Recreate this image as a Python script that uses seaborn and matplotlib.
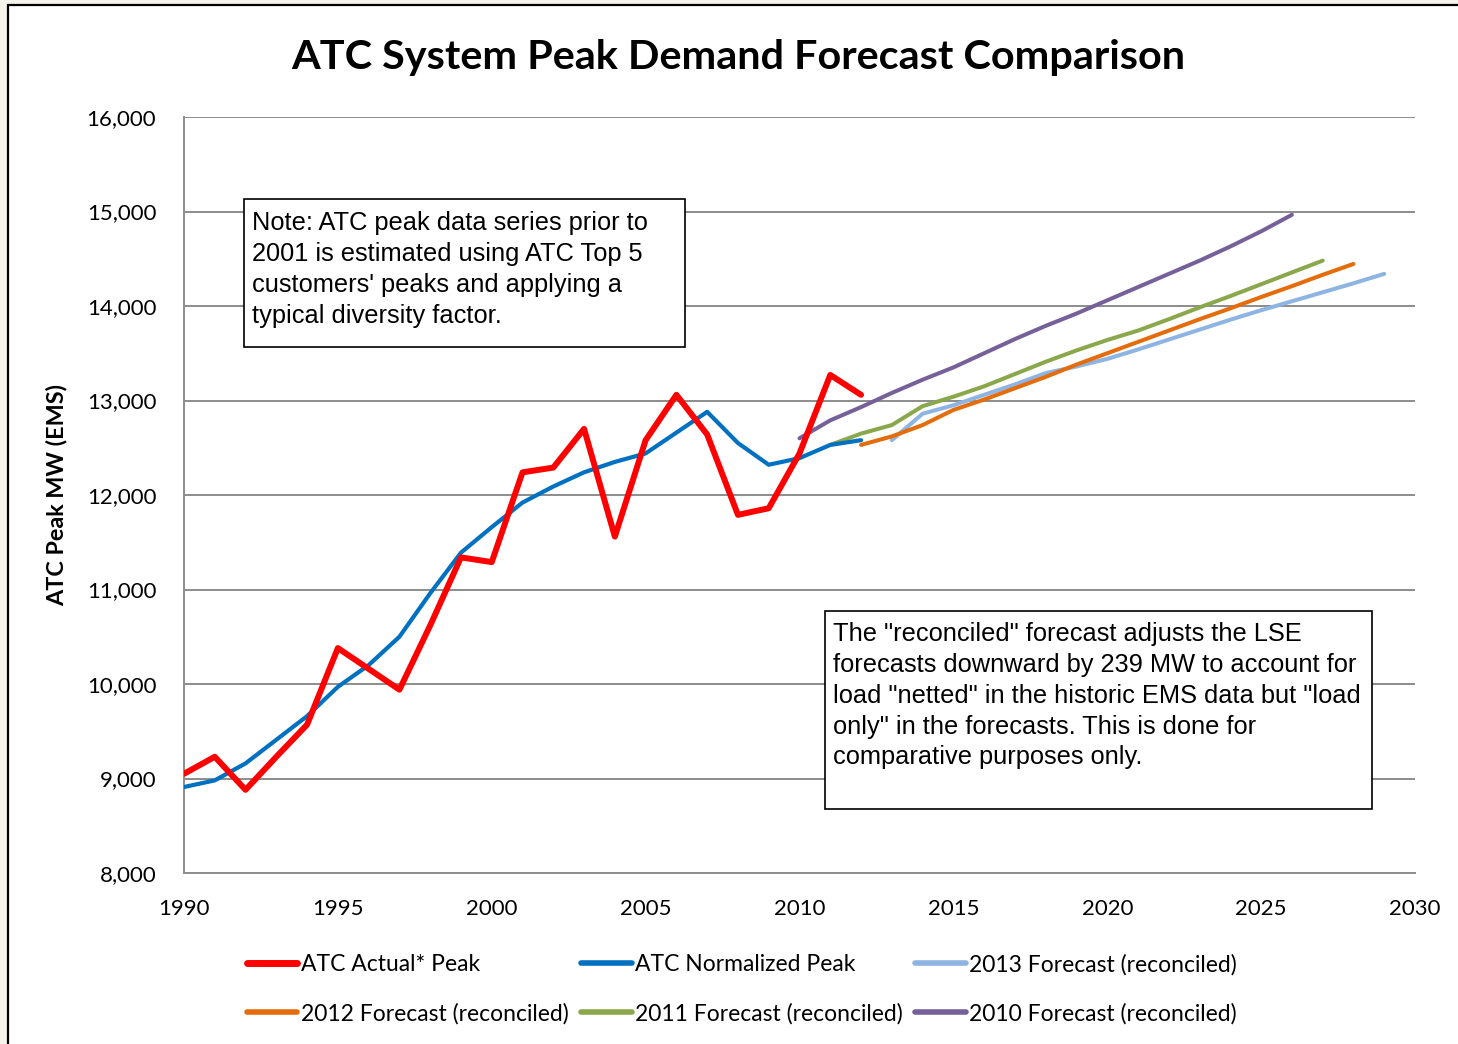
import matplotlib
matplotlib.use("Agg")
import matplotlib.pyplot as plt
from matplotlib.lines import Line2D
from matplotlib.patches import Rectangle
import seaborn as sns

# Historic peaks, 1990-2012
years_hist = list(range(1990, 2013))
actual_peak = [9050, 9230, 8880, 9230, 9570, 10380, 10160, 9940, 10620, 11340, 11290, 12240,
               12290, 12700, 11560, 12580, 13060, 12640, 11790, 11860, 12440, 13270, 13060]
normalized_peak = [8910, 8980, 9160, 9410, 9660, 9970, 10200, 10500, 10960, 11390, 11660, 11920,
                   12090, 12240, 12350, 12440, 12660, 12880, 12550, 12320, 12390, 12530, 12580]

# Reconciled forecasts
years_2010 = list(range(2010, 2027))
fc_2010 = [12600, 12790, 12930, 13080, 13220, 13350, 13500, 13650, 13790, 13920, 14060, 14200,
           14340, 14480, 14630, 14790, 14965]
years_2011 = list(range(2011, 2028))
fc_2011 = [12530, 12650, 12740, 12940, 13040, 13150, 13280, 13410, 13530, 13640, 13740, 13860,
           13985, 14105, 14230, 14355, 14480]
years_2012 = list(range(2012, 2029))
fc_2012 = [12530, 12620, 12740, 12900, 13010, 13130, 13250, 13380, 13500, 13620, 13740, 13860,
           13975, 14095, 14210, 14330, 14445]
years_2013 = list(range(2013, 2030))
fc_2013 = [12580, 12860, 12950, 13060, 13170, 13290, 13360, 13440, 13540, 13645, 13750, 13855,
           13955, 14050, 14145, 14240, 14340]

labels = ["ATC Actual* Peak", "ATC Normalized Peak", "2013 Forecast (reconciled)",
          "2012 Forecast (reconciled)", "2011 Forecast (reconciled)", "2010 Forecast (reconciled)"]
colors = ["#FF0000", "#0070C0", "#8DB4E2", "#E46C0A", "#8AA84B", "#76609A"]

y_ticks = list(range(8000, 16001, 1000))
x_ticks = list(range(1990, 2031))

note1 = ("Note: ATC peak data series prior to\n2001 is estimated using ATC Top 5\n"
         "customers' peaks and applying a\ntypical diversity factor.")
note2 = ("The \"reconciled\" forecast adjusts the LSE\nforecasts downward by 239 MW to account for\n"
         "load \"netted\" in the historic EMS data but \"load\nonly\" in the forecasts. This is done for\n"
         "comparative purposes only.")

sns.set_style("white")
plt.rcParams['font.family'] = ['Lato', 'DejaVu Sans']
plt.rcParams['text.color'] = 'black'

fig = plt.figure(figsize=(14.58, 10.44), dpi=100, facecolor="#F5F4EA")
# white chart area with black frame
fig.patches.append(Rectangle((8 / 1458, -0.02), 1.05, 1 - 5 / 1044 + 0.02, transform=fig.transFigure,
                             facecolor="white", edgecolor="black", linewidth=1.6, zorder=-5))
ax = fig.add_axes([184 / 1458, 1 - 873 / 1044, 1231 / 1458, 756 / 1044])
ax.set_facecolor("white")

series = [
    (years_hist, actual_peak, 4.3),
    (years_hist, normalized_peak, 3.0),
    (years_2013, fc_2013, 2.9),
    (years_2012, fc_2012, 2.9),
    (years_2011, fc_2011, 2.9),
    (years_2010, fc_2010, 2.9),
]
# draw forecasts first, history on top
draw_order = [2, 3, 4, 5, 1, 0]
for i in draw_order:
    xs, ys, lw = series[i]
    sns.lineplot(x=xs, y=ys, ax=ax, color=colors[i], linewidth=lw, legend=False,
                 solid_capstyle="round", zorder=3 + (1 if i == 0 else 0))

ax.set_xlim(1990, 2030)
ax.set_ylim(8000, 16000)
ax.set_yticks(y_ticks)
ax.set_yticklabels([f"{v:,}" for v in y_ticks])
ax.set_xticks(x_ticks)
ax.set_xticklabels([str(v) if v % 5 == 0 else "" for v in x_ticks])
ax.grid(axis="y", color="#8C8C8C", linewidth=1.4)
ax.grid(axis="x", visible=False)
ax.set_axisbelow(True)
for s in ["top", "right"]:
    ax.spines[s].set_visible(False)
for s in ["left", "bottom"]:
    ax.spines[s].set_color("#8C8C8C")
    ax.spines[s].set_linewidth(1.4)
ax.tick_params(axis="both", direction="out", length=5, width=1.4, color="#8C8C8C",
               labelsize=16, labelcolor="black")
ax.tick_params(axis="y", pad=15)
ax.tick_params(axis="x", pad=14)
ax.set_xlabel("")
ax.set_ylabel("")

fig.text(738 / 1458, 1 - 57 / 1044, "ATC System Peak Demand Forecast Comparison",
         ha="center", va="center", fontsize=29.8, fontweight="bold", color="black")
fig.text(57 / 1458, 1 - 495 / 1044, "ATC Peak MW (EMS)", rotation=90, ha="center", va="center",
         fontsize=16.8, fontweight="bold", color="black")

# annotation boxes
ax.add_patch(Rectangle((60 / 1231, (873 - 347) / 756), 441 / 1231, 148 / 756, transform=ax.transAxes,
                       facecolor="white", edgecolor="black", linewidth=1.2, zorder=6))
ax.text(68 / 1231, (873 - 211) / 756, note1, transform=ax.transAxes, ha="left", va="top",
        fontsize=18.3, family=["Liberation Sans", "DejaVu Sans"], linespacing=1.36, zorder=7)
ax.add_patch(Rectangle((641 / 1231, (873 - 809) / 756), 547 / 1231, 198 / 756, transform=ax.transAxes,
                       facecolor="white", edgecolor="black", linewidth=1.2, zorder=6))
ax.text(649 / 1231, (873 - 622) / 756, note2, transform=ax.transAxes, ha="left", va="top",
        fontsize=18.3, family=["Liberation Sans", "DejaVu Sans"], linespacing=1.36, zorder=7)

# legend, row-major order like the original
handles = [Line2D([], [], color=c, linewidth=5 if i == 0 else 4, solid_capstyle="round")
           for i, c in enumerate(colors)]
order = [0, 3, 1, 4, 2, 5]
fig.legend([handles[i] for i in order], [labels[i] for i in order], ncol=3,
           loc="center", bbox_to_anchor=(742 / 1458, 1 - 989 / 1044), frameon=False,
           fontsize=16.5, handlelength=2.2, handletextpad=0.15, columnspacing=0.55,
           labelspacing=1.2)

fig.savefig("out.png", dpi=100, facecolor=fig.get_facecolor())
